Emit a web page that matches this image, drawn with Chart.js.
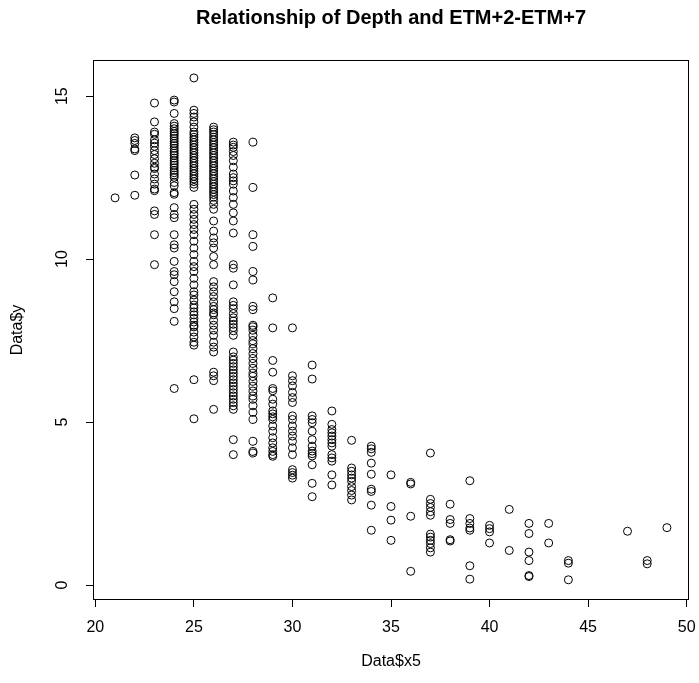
<!DOCTYPE html>
<html><head><meta charset="utf-8">
<script src="https://cdn.jsdelivr.net/npm/chart.js@4/dist/chart.umd.min.js"></script>
<style>html,body{margin:0;padding:0;background:#fff}canvas{display:block}</style>
</head><body>
<canvas id="c" width="699" height="683"></canvas>
<script>
// Depth values (x) and the y values observed at each depth
const d21 = [11.88];
const d22 = [13.72, 13.64, 13.55, 13.38, 13.33, 12.58, 11.96];
const d23 = [14.79, 14.21, 13.90, 13.83, 13.66, 13.56, 13.46, 13.33, 13.21, 13.08, 12.94, 12.82, 12.78, 12.61, 12.46, 12.30, 12.15, 12.10, 11.48, 11.37, 10.75, 9.83];
const d24 = [14.88, 14.82, 14.47, 14.16, 14.08, 14.0, 13.92, 13.85, 13.78, 13.7, 13.62, 13.55, 13.48, 13.4, 13.32, 13.25, 13.18, 13.1, 13.02, 12.95, 12.88, 12.8, 12.72, 12.65, 12.58, 12.51, 12.35, 12.25, 12.04, 11.99, 11.58, 11.37, 11.27, 10.75, 10.44, 10.34, 9.93, 9.62, 9.52, 9.31, 9.0, 8.69, 8.48, 8.09, 6.03];
const d25 = [15.56, 14.57, 14.47, 14.36, 14.21, 14.05, 13.9, 13.82, 13.74, 13.66, 13.58, 13.5, 13.42, 13.34, 13.26, 13.18, 13.1, 13.02, 12.94, 12.86, 12.78, 12.7, 12.62, 12.54, 12.46, 12.38, 12.3, 12.2, 11.68, 11.53, 11.37, 11.22, 11.06, 10.91, 10.75, 10.55, 10.34, 10.14, 9.93, 9.77, 9.62, 9.41, 9.21, 9.0, 8.9, 8.74, 8.59, 8.5, 8.38, 8.29, 8.18, 8.07, 7.97, 7.92, 7.76, 7.61, 7.45, 7.36, 6.3, 5.1];
const d26 = [14.05, 13.97, 13.9, 13.82, 13.74, 13.66, 13.58, 13.5, 13.42, 13.34, 13.26, 13.18, 13.1, 13.02, 12.94, 12.86, 12.78, 12.7, 12.62, 12.54, 12.46, 12.38, 12.3, 12.22, 12.14, 12.06, 11.98, 11.9, 11.8, 11.68, 11.53, 11.17, 10.86, 10.65, 10.5, 10.34, 10.08, 9.83, 9.31, 9.15, 9.0, 8.85, 8.69, 8.55, 8.45, 8.35, 8.29, 8.12, 7.97, 7.82, 7.66, 7.45, 7.3, 7.15, 6.53, 6.42, 6.27, 5.39];
const d27 = [13.59, 13.5, 13.43, 13.3, 13.18, 13.02, 12.82, 12.61, 12.5, 12.4, 12.3, 12.09, 11.89, 11.68, 11.42, 11.17, 10.8, 9.83, 9.72, 9.21, 8.69, 8.58, 8.48, 8.33, 8.2, 8.1, 8.0, 7.9, 7.8, 7.66, 7.15, 7.0, 6.9, 6.8, 6.7, 6.6, 6.5, 6.4, 6.3, 6.2, 6.1, 6.0, 5.9, 5.8, 5.7, 5.6, 5.5, 5.39, 4.46, 4.0];
const d28 = [13.59, 12.2, 10.75, 10.39, 9.62, 9.36, 8.55, 8.45, 7.97, 7.92, 7.82, 7.66, 7.5, 7.4, 7.25, 7.1, 6.95, 6.8, 6.65, 6.5, 6.4, 6.25, 6.1, 5.95, 5.8, 5.7, 5.5, 5.3, 5.08, 4.41, 4.1, 4.05];
const d29 = [8.81, 7.89, 6.89, 6.53, 6.03, 5.96, 5.7, 5.55, 5.34, 5.25, 5.16, 5.08, 4.88, 4.72, 4.52, 4.36, 4.21, 4.1, 4.0, 3.95];
const d30 = [7.89, 6.42, 6.27, 6.11, 5.91, 5.75, 5.6, 5.19, 5.08, 4.88, 4.72, 4.57, 4.41, 4.21, 4.0, 3.54, 3.45, 3.37, 3.28];
const d31 = [6.75, 6.32, 5.19, 5.08, 4.98, 4.72, 4.46, 4.26, 4.11, 4.03, 3.96, 3.69, 3.12, 2.71];
const d32 = [5.34, 4.93, 4.77, 4.67, 4.57, 4.46, 4.36, 4.26, 4.0, 3.9, 3.8, 3.38, 3.07];
const d33 = [4.44, 3.59, 3.49, 3.38, 3.28, 3.18, 3.02, 2.9, 2.76, 2.61];
const d34 = [4.26, 4.18, 4.07, 3.74, 3.4, 2.94, 2.87, 2.45, 1.68];
const d35 = [3.38, 2.41, 1.99, 1.37];
const d36 = [3.15, 3.1, 2.11, 0.42];
const d37 = [4.05, 2.63, 2.5, 2.38, 2.25, 2.14, 1.56, 1.47, 1.37, 1.27, 1.14, 1.01];
const d38 = [2.48, 2.01, 1.89, 1.39, 1.35];
const d39 = [3.2, 2.04, 1.89, 1.75, 1.68, 0.59, 0.18];
const d40 = [1.83, 1.73, 1.63, 1.29];
const d41 = [2.32, 1.06];
const d42 = [1.89, 1.58, 1.01, 0.75, 0.29, 0.26];
const d43 = [1.89, 1.29];
const d44 = [0.75, 0.67, 0.16];
const d47 = [1.65];
const d48 = [0.75, 0.65];
const d49 = [1.76];

const depths = [21, 22, 23, 24, 25, 26, 27, 28, 29, 30, 31, 32, 33, 34, 35, 36, 37, 38, 39, 40, 41, 42, 43, 44, 47, 48, 49];
const yAtDepth = [d21, d22, d23, d24, d25, d26, d27, d28, d29, d30, d31, d32, d33, d34, d35, d36, d37, d38, d39, d40, d41, d42, d43, d44, d47, d48, d49];

const xTicks = [20, 25, 30, 35, 40, 45, 50];
const yTicks = [0, 5, 10, 15];

const titleText = 'Relationship of Depth and ETM+2-ETM+7';
const xLabel = 'Data$x5';
const yLabel = 'Data$y';

const points = [];
depths.forEach((d, i) => yAtDepth[i].forEach(v => points.push({x: d, y: v})));

Chart.defaults.font.family = "'Liberation Sans', Arial, sans-serif";
Chart.defaults.color = '#000';

const boxPlugin = {
  id: 'box',
  afterDraw(chart) {
    const a = chart.chartArea, c = chart.ctx;
    c.save();
    c.strokeStyle = '#000';
    c.lineWidth = 1;
    c.strokeRect(Math.round(a.left) + 0.5, Math.round(a.top) + 0.5, Math.round(a.right - a.left) - 1, Math.round(a.bottom - a.top) - 1);
    c.restore();
  }
};

new Chart(document.getElementById('c'), {
  type: 'scatter',
  data: {
    datasets: [{
      data: points,
      pointStyle: 'circle',
      pointRadius: 4,
      pointBorderWidth: 1,
      pointBorderColor: '#000',
      pointBackgroundColor: 'rgba(0,0,0,0)'
    }]
  },
  plugins: [boxPlugin],
  options: {
    responsive: false,
    animation: false,
    events: [],
    layout: { padding: { left: 0, right: 10, top: 0, bottom: 0 } },
    plugins: {
      legend: { display: false },
      tooltip: { enabled: false },
      title: {
        display: true,
        text: titleText,
        fullSize: false,
        color: '#000',
        font: { size: 20, weight: 'bold' },
        padding: { top: 6, bottom: 30 }
      }
    },
    scales: {
      x: {
        type: 'linear',
        position: 'bottom',
        min: 19.88,
        max: 50.12,
        afterBuildTicks: s => { s.ticks = xTicks.map(v => ({ value: v })); },
        afterFit: s => { s.height = 83; s.paddingLeft = 0; s.paddingRight = 0; },
        border: { display: false },
        grid: { drawOnChartArea: false, drawTicks: true, tickLength: 7, color: '#000', lineWidth: 1 },
        ticks: { color: '#000', font: { size: 16 }, padding: 11, maxRotation: 0, autoSkip: false },
        title: { display: true, text: xLabel, color: '#000', font: { size: 16 }, padding: { top: 0, bottom: 12 } }
      },
      y: {
        type: 'linear',
        position: 'left',
        min: -0.46,
        max: 16.11,
        afterBuildTicks: s => { s.ticks = yTicks.map(v => ({ value: v })); },
        afterFit: s => { s.width = 93; s.paddingTop = 0; s.paddingBottom = 0; },
        border: { display: false },
        grid: { drawOnChartArea: false, drawTicks: true, tickLength: 7, color: '#000', lineWidth: 1 },
        ticks: { color: '#000', font: { size: 16 }, padding: 15, minRotation: 90, maxRotation: 90, crossAlign: 'center', autoSkip: false },
        title: { display: true, text: yLabel, color: '#000', font: { size: 16 }, padding: { top: 8, bottom: 0 } }
      }
    }
  }
});
</script>
</body></html>
